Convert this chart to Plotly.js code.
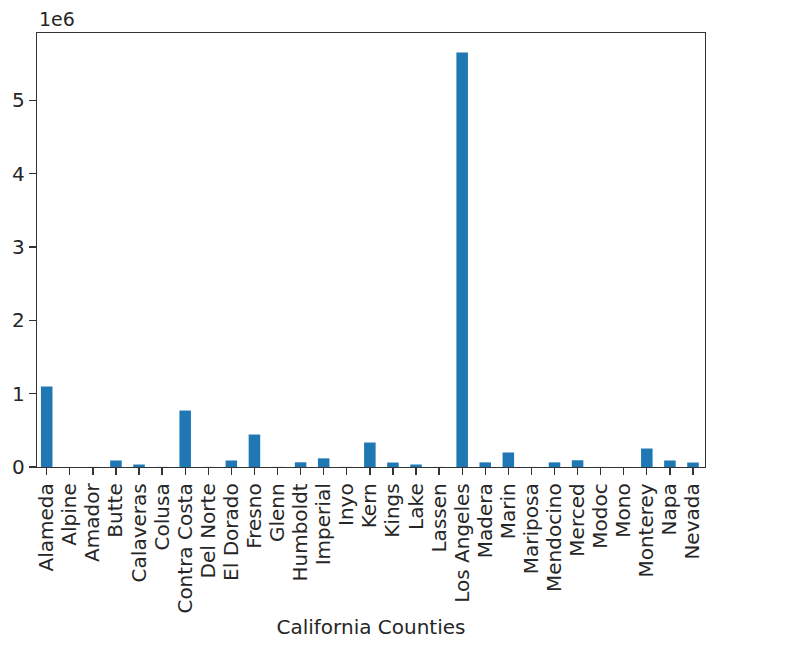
<!DOCTYPE html>
<html>
<head>
<meta charset="utf-8">
<script src="https://cdn.plot.ly/plotly-3.0.1.min.js"></script>
<style>html,body{margin:0;padding:0;background:#fff;}#chart{width:806px;height:656px;}</style>
</head>
<body>
<div id="chart"></div>
<script>
var counties = ["Alameda","Alpine","Amador","Butte","Calaveras","Colusa","Contra Costa","Del Norte","El Dorado","Fresno","Glenn","Humboldt","Imperial","Inyo","Kern","Kings","Lake","Lassen","Los Angeles","Madera","Marin","Mariposa","Mendocino","Merced","Modoc","Mono","Monterey","Napa","Nevada"];
var values = [1098000, 400, 1500, 89000, 34000, 1500, 770000, 1500, 89000, 443000, 1500, 64000, 118000, 1500, 334000, 61000, 34000, 1500, 5655000, 63000, 198000, 1000, 63000, 92000, 1000, 500, 252000, 89000, 61000];
var yTicks = [0, 1e6, 2e6, 3e6, 4e6, 5e6];
var yTickText = ["0", "1", "2", "3", "4", "5"];

var font = {family: "DejaVu Sans, sans-serif", size: 20, color: "#262626"};
var trace = {
  type: "bar",
  x: counties,
  y: values,
  marker: {color: "#1f77b4", line: {width: 0}},
  width: 0.5,
  hoverinfo: "x+y"
};
var layout = {
  width: 806, height: 656,
  margin: {l: 37, r: 101, t: 33, b: 189, pad: 0},
  paper_bgcolor: "#fff", plot_bgcolor: "#fff",
  font: font,
  showlegend: false,
  bargap: 0.5,
  xaxis: {
    type: "category",
    range: [-0.42, 28.52],
    tickmode: "array", tickvals: counties, ticktext: counties,
    tickangle: -90,
    ticks: "outside", ticklen: 7, tickwidth: 1.3, tickcolor: "#333",
    showline: true, linecolor: "#333", linewidth: 1.3, mirror: true,
    showgrid: false, zeroline: false,
    tickfont: font,
    automargin: false,
    title: {text: "California Counties", font: font, standoff: 7}
  },
  yaxis: {
    range: [0, 5.92e6],
    tickvals: yTicks, ticktext: yTickText,
    ticks: "outside", ticklen: 7, tickwidth: 1.3, tickcolor: "#333",
    showline: true, linecolor: "#333", linewidth: 1.3, mirror: true,
    showgrid: false, zeroline: false,
    automargin: false,
    tickfont: font
  },
  annotations: [{
    text: "1e6", xref: "paper", yref: "paper", x: 0, y: 1,
    xanchor: "left", yanchor: "bottom", yshift: 1, showarrow: false,
    font: {family: "DejaVu Sans, sans-serif", size: 19, color: "#262626"}
  }]
};
Plotly.newPlot("chart", [trace], layout, {displayModeBar: false, staticPlot: true});
</script>
</body>
</html>
